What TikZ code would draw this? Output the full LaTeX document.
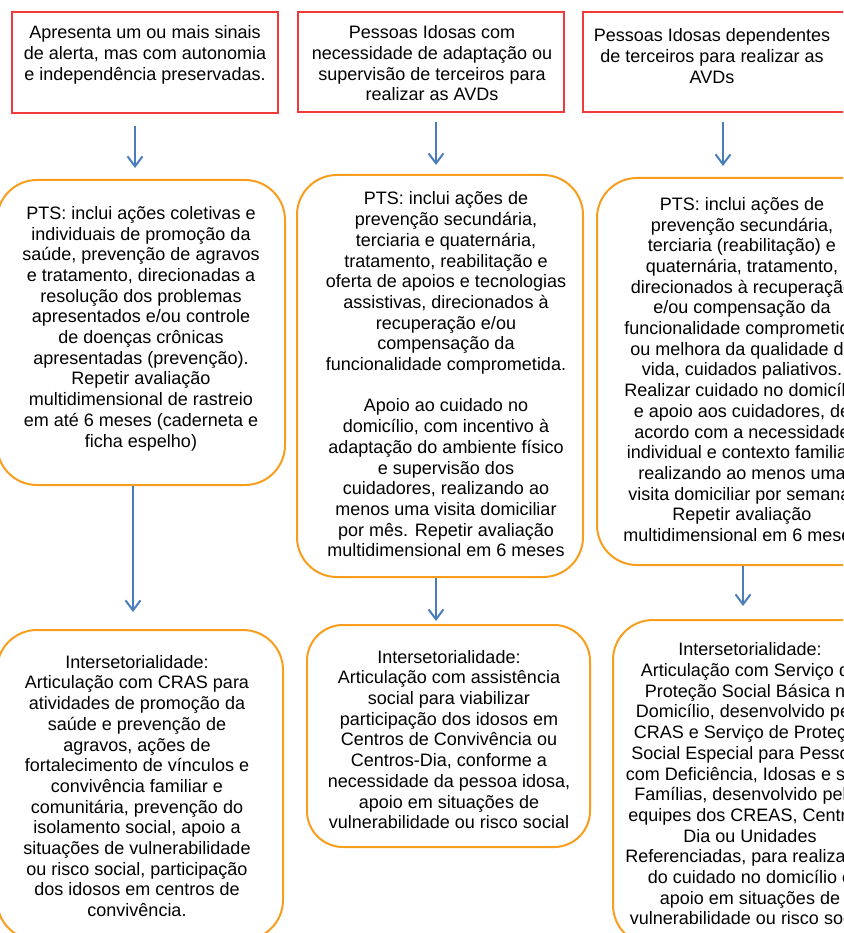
\documentclass[tikz,border=0pt]{standalone}
\usepackage{fontspec}
\setmainfont{Liberation Sans}
\usetikzlibrary{arrows.meta}
\definecolor{boxred}{RGB}{242,58,58}
\definecolor{boxorange}{RGB}{248,158,30}
\definecolor{arrblue}{RGB}{74,126,187}
\tikzset{
  redbox/.style={draw=boxred, line width=2pt, rectangle, inner sep=0pt},
  orangebox/.style={draw=boxorange, line width=2pt, rectangle, rounded corners=40pt, inner sep=0pt},
  txt/.style={align=center, inner sep=0pt, font=\fontsize{18}{20.7}\selectfont, text=black},
  arr/.style={draw=arrblue, line width=1.1pt, -{Straight Barb[length=10pt,width=15pt,line width=2pt]}}
}
\begin{document}
\begin{tikzpicture}[x=1pt,y=-1pt]
\useasboundingbox (0,0) rectangle (843,933);
\clip (0,0) rectangle (843,933);
\fill[white] (0,0) rectangle (843,933);
% red boxes
\node[redbox, minimum width=266pt, minimum height=101pt] (r1) at (145,62.5) {};
\node[redbox, minimum width=266pt, minimum height=100pt] (r2) at (431,62) {};
\node[redbox, minimum width=266pt, minimum height=100pt] (r3) at (716,62) {};
% PTS boxes
\node[orangebox, minimum width=288pt, minimum height=305pt] (p1) at (141,332.5) {};
\node[orangebox, minimum width=286pt, minimum height=402pt] (p2) at (440,376) {};
\node[orangebox, minimum width=290pt, minimum height=387pt] (p3) at (742,371.5) {};
% Intersetorialidade boxes
\node[orangebox, minimum width=286pt, minimum height=310pt] (q1) at (140,785) {};
\node[orangebox, rounded corners=36pt, minimum width=283pt, minimum height=222pt] (q2) at (448.5,736) {};
\node[orangebox, minimum width=274pt, minimum height=325pt] (q3) at (750,782.5) {};
% texts
\node[txt] (r1t) at (145,55) {Apresenta um ou mais sinais\\de alerta, mas com autonomia\\e independência preservadas.};
\node[txt] (r2t) at (432,63.5) {Pessoas Idosas com\\necessidade de adaptação ou\\supervisão de terceiros para\\realizar as AVDs};
\node[txt] (r3t) at (712,56) {Pessoas Idosas dependentes\\de terceiros para realizar as\\AVDs};
\node[txt] (p1t) at (141,328.5) {PTS: inclui ações coletivas e\\individuais de promoção da\\saúde, prevenção de agravos\\e tratamento, direcionadas a\\resolução dos problemas\\apresentados e/ou controle\\de doenças crônicas\\apresentadas (prevenção).\\Repetir avaliação\\multidimensional de rastreio\\em até 6 meses (caderneta e\\ficha espelho)};
\node[txt] (p2t) at (446,374.5) {PTS: inclui ações de\\prevenção secundária,\\terciaria e quaternária,\\tratamento, reabilitação e\\oferta de apoios e tecnologias\\assistivas, direcionados à\\recuperação e/ou\\compensação da\\funcionalidade comprometida.\\[20.7pt]Apoio ao cuidado no\\domicílio, com incentivo à\\adaptação do ambiente físico\\e supervisão dos\\cuidadores, realizando ao\\menos uma visita domiciliar\\por mês. Repetir avaliação\\multidimensional em 6 meses};
\node[txt] (p3t) at (742,369.5) {PTS: inclui ações de\\prevenção secundária,\\terciaria (reabilitação) e\\quaternária, tratamento,\\direcionados à recuperação\\e/ou compensação da\\funcionalidade comprometida\\ou melhora da qualidade de\\vida, cuidados paliativos.\\Realizar cuidado no domicílio\\e apoio aos cuidadores, de\\acordo com a necessidade\\individual e contexto familiar,\\realizando ao menos uma\\visita domiciliar por semana.\\Repetir avaliação\\multidimensional em 6 meses};
\node[txt] (q1t) at (137,786) {Intersetorialidade:\\Articulação com CRAS para\\atividades de promoção da\\saúde e prevenção de\\agravos, ações de\\fortalecimento de vínculos e\\convivência familiar e\\comunitária, prevenção do\\isolamento social, apoio a\\situações de vulnerabilidade\\ou risco social, participação\\dos idosos em centros de\\convivência.};
\node[txt] (q2t) at (449,739.5) {Intersetorialidade:\\Articulação com assistência\\social para viabilizar\\participação dos idosos em\\Centros de Convivência ou\\Centros-Dia, conforme a\\necessidade da pessoa idosa,\\apoio em situações de\\vulnerabilidade ou risco social};
\node[txt] (q3t) at (750,784) {Intersetorialidade:\\Articulação com Serviço de\\Proteção Social Básica no\\Domicílio, desenvolvido pelo\\CRAS e Serviço de Proteção\\Social Especial para Pessoas\\com Deficiência, Idosas e suas\\Famílias, desenvolvido pelas\\equipes dos CREAS, Centros-\\Dia ou Unidades\\Referenciadas, para realização\\do cuidado no domicílio e\\apoio em situações de\\vulnerabilidade ou risco social};
% arrows
\draw[arr] ([xshift=-10pt,yshift=-12pt]r1.south) -- ([xshift=-6pt,yshift=11pt]p1.north);
\draw[arr] ([xshift=5pt,yshift=-9pt]r2.south) -- ([xshift=-4pt,yshift=9pt]p2.north);
\draw[arr] ([xshift=7pt,yshift=-9pt]r3.south) -- ([xshift=-19pt,yshift=11pt]p3.north);
\draw[arr] ([xshift=-8pt]p1.south) -- ([xshift=-7pt,yshift=17pt]q1.north);
\draw[arr] ([xshift=-4pt]p2.south) -- ([xshift=-12.5pt,yshift=3pt]q2.north);
\draw[arr] ([xshift=1pt]p3.south) -- ([xshift=-7pt,yshift=13pt]q3.north);
\end{tikzpicture}
\end{document}
